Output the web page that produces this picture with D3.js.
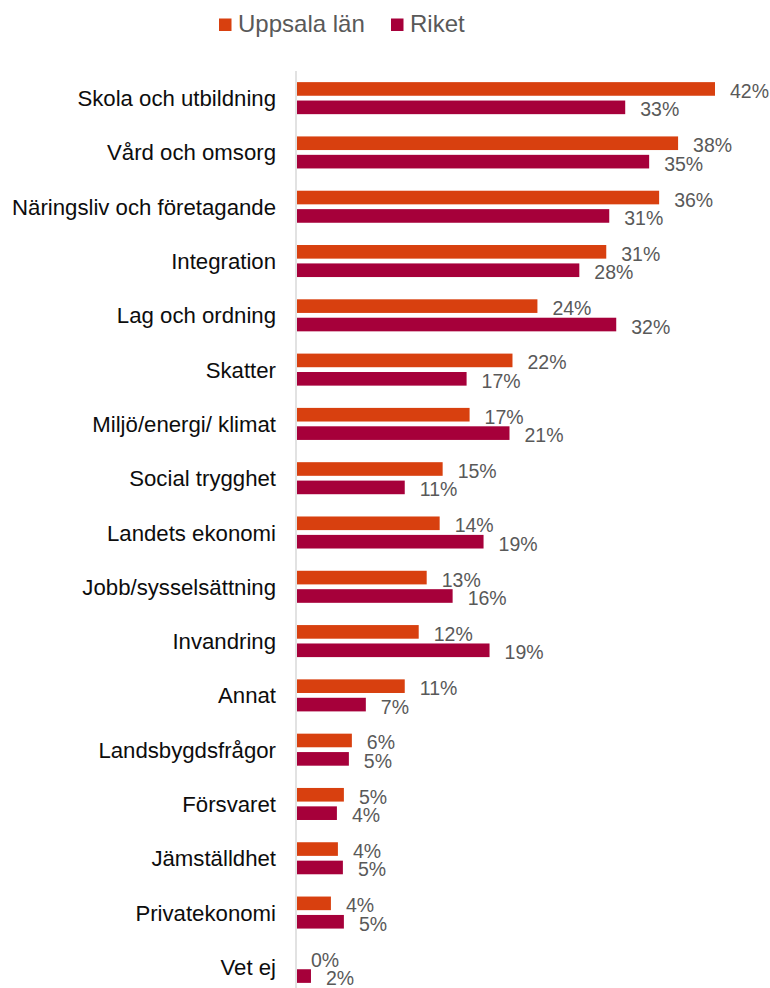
<!DOCTYPE html>
<html>
<head>
<meta charset="utf-8">
<script src="https://cdn.jsdelivr.net/npm/d3@7"></script>
<style>
  html, body { margin: 0; padding: 0; background: #ffffff; }
  svg { display: block; font-family: "Liberation Sans", Arial, sans-serif; }
</style>
</head>
<body>
<svg id="chart" width="770" height="988"></svg>
<script>
const categories = [
  "Skola och utbildning", "Vård och omsorg", "Näringsliv och företagande",
  "Integration", "Lag och ordning", "Skatter", "Miljö/energi/ klimat",
  "Social trygghet", "Landets ekonomi", "Jobb/sysselsättning", "Invandring",
  "Annat", "Landsbygdsfrågor", "Försvaret", "Jämställdhet", "Privatekonomi", "Vet ej"
];
const seriesNames = ["Uppsala län", "Riket"];
const uppsala = [42.0, 38.3, 36.4, 31.1, 24.2, 21.7, 17.4, 14.7, 14.4, 13.1, 12.3, 10.9, 5.6, 4.8, 4.2, 3.5, 0.0];
const riket   = [33.0, 35.4, 31.4, 28.4, 32.1, 17.1, 21.4, 10.9, 18.8, 15.7, 19.4, 7.0, 5.3, 4.1, 4.7, 4.8, 1.5];
const colors = ["#D8400F", "#A6003A"];

const svg = d3.select("#chart");
const FONT = "'Liberation Sans', Arial, sans-serif";
const x0 = 296;
const x = d3.scaleLinear().domain([0, 42]).range([x0, 715]);
const y = d3.scaleBand().domain(categories).range([71, 994]).paddingInner(0.41).paddingOuter(0.205);
const ySub = d3.scaleBand().domain(seriesNames).range([0, y.bandwidth()]).paddingInner(0.26);
const fmt = v => d3.format(".0f")(v) + "%";

// axis line
svg.append("line")
  .attr("x1", x0).attr("x2", x0)
  .attr("y1", 71).attr("y2", 994)
  .attr("stroke", "#d9d9d9").attr("stroke-width", 1.5);

// category labels
const yAxis = d3.axisLeft(y).tickSize(0).tickPadding(0);
const ag = svg.append("g").attr("transform", `translate(276,0)`).call(yAxis);
ag.select(".domain").remove();
ag.selectAll("text")
  .attr("font-size", "22.2px")
  .attr("font-family", FONT)
  .attr("fill", "#0d0d0d")
  .attr("dy", "0.36em");

const data = categories.map((c, i) => ({ cat: c, vals: [uppsala[i], riket[i]] }));
const groups = svg.append("g").selectAll("g").data(data).join("g")
  .attr("transform", d => `translate(0,${y(d.cat)})`);

groups.selectAll("rect").data(d => d.vals.map((v, j) => ({ s: seriesNames[j], v, j }))).join("rect")
  .attr("x", x0 + 1)
  .attr("y", d => ySub(d.s))
  .attr("width", d => Math.max(0, x(d.v) - x0 - 1))
  .attr("height", ySub.bandwidth())
  .attr("fill", d => colors[d.j]);

groups.selectAll("text.val").data(d => d.vals.map((v, j) => ({ s: seriesNames[j], v, j }))).join("text")
  .attr("class", "val")
  .attr("x", d => x(d.v) + 15)
  .attr("y", d => ySub(d.s) + ySub.bandwidth() / 2 + 9)
  .attr("font-size", "19.5px")
  .attr("font-family", FONT)
  .attr("fill", "#595959")
  .text(d => fmt(d.v));

// legend
const legend = svg.append("g");
const legendX = [219, 391];
seriesNames.forEach((s, i) => {
  legend.append("rect")
    .attr("x", legendX[i]).attr("y", 18.5)
    .attr("width", 12.5).attr("height", 12.5)
    .attr("fill", colors[i]);
  legend.append("text")
    .attr("x", legendX[i] + 19).attr("y", 31.5)
    .attr("font-size", "24px")
    .attr("font-family", FONT)
    .attr("fill", "#595959")
    .text(s);
});
</script>
</body>
</html>
